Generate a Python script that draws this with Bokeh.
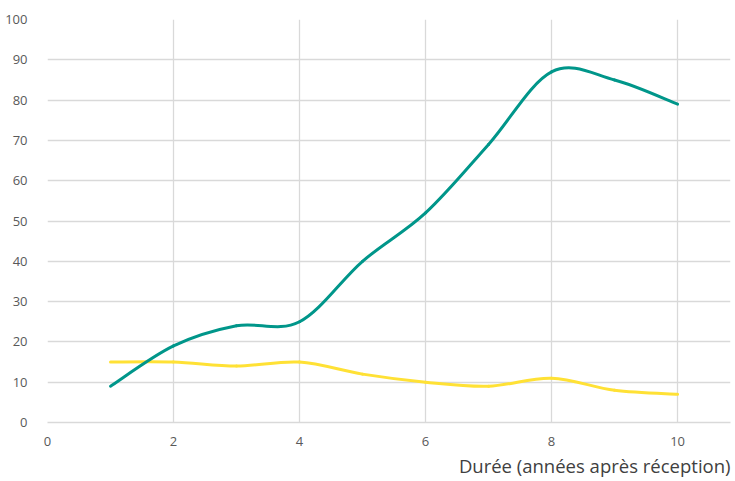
from bokeh.plotting import figure
from bokeh.models import Range1d, Title, ColumnDataSource
from bokeh.embed import file_html
from bokeh.resources import INLINE

years = [1, 2, 3, 4, 5, 6, 7, 8, 9, 10]
teal_values = [9, 19, 24, 25, 40, 52, 69, 87, 85, 79]
yellow_values = [15, 15, 14, 15, 12, 10, 9, 11, 8, 7]
x_ticks = [0, 2, 4, 6, 8, 10]
y_ticks = [0, 10, 20, 30, 40, 50, 60, 70, 80, 90, 100]
x_title = "Durée (années après réception)"

TEAL = "#00968a"
YELLOW = "#ffe135"
GRID = "#d9d9d9"
LABEL = "#595959"


def bezier_source(xs, ys):
    n = len(xs)
    d = dict(x0=[], y0=[], x1=[], y1=[], cx0=[], cy0=[], cx1=[], cy1=[])
    for i in range(n - 1):
        ip = max(i - 1, 0)
        inn = min(i + 2, n - 1)
        d["x0"].append(xs[i]); d["y0"].append(ys[i])
        d["x1"].append(xs[i + 1]); d["y1"].append(ys[i + 1])
        d["cx0"].append(xs[i] + (xs[i + 1] - xs[ip]) / 6)
        d["cy0"].append(ys[i] + (ys[i + 1] - ys[ip]) / 6)
        d["cx1"].append(xs[i + 1] - (xs[inn] - xs[i]) / 6)
        d["cy1"].append(ys[i + 1] - (ys[inn] - ys[i]) / 6)
    return ColumnDataSource(d)


p = figure(width=732, height=479, output_backend="svg", toolbar_location=None,
           x_range=Range1d(0, 10.84), y_range=Range1d(0, 100),
           min_border_left=47, min_border_right=2, min_border_top=19, min_border_bottom=0)
p.outline_line_color = None

for vals, col in [(yellow_values, YELLOW), (teal_values, TEAL)]:
    src = bezier_source(years, vals)
    p.bezier(x0="x0", y0="y0", x1="x1", y1="y1", cx0="cx0", cy0="cy0",
             cx1="cx1", cy1="cy1", source=src, line_color=col, line_width=3,
             line_cap="round")

p.xaxis.ticker = x_ticks
p.yaxis.ticker = y_ticks
for ax in (p.xaxis, p.yaxis):
    ax.major_tick_line_color = None
    ax.minor_tick_line_color = None
    ax.major_label_text_font = "Open Sans"
    ax.major_label_text_font_size = "13px"
    ax.major_label_text_color = LABEL
p.yaxis.axis_line_color = None
p.xaxis.axis_line_color = GRID
p.xaxis.axis_line_width = 1.3
p.yaxis.major_label_standoff = 14
p.xaxis.major_label_standoff = 8
p.xgrid.grid_line_color = GRID
p.ygrid.grid_line_color = GRID
p.xgrid.grid_line_width = 1.3
p.ygrid.grid_line_width = 1.3

p.add_layout(Title(text=x_title, align="right", text_font="Open Sans",
                   text_font_size="18.5px", text_font_style="normal",
                   text_color="#404040", standoff=4), "below")

open("out.html", "w").write(file_html(p, INLINE))
